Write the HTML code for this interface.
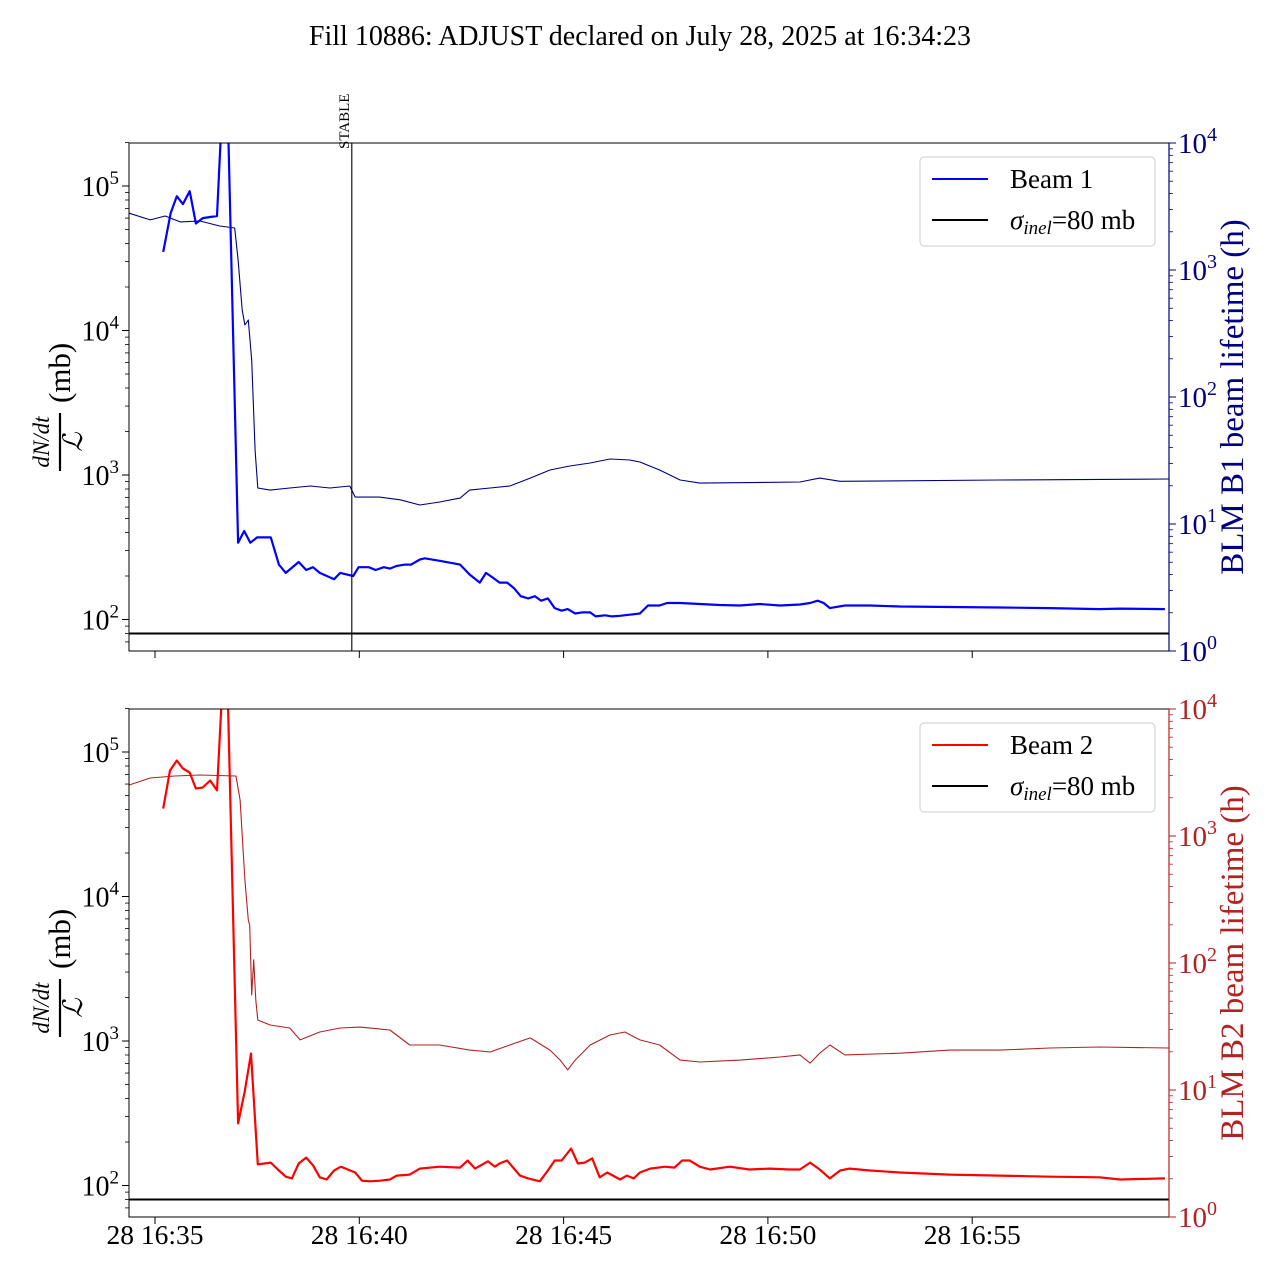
<!DOCTYPE html>
<html><head><meta charset="utf-8">
<style>
body{margin:0;background:#fff;}
svg text{font-family:"Liberation Serif","DejaVu Serif",serif;}
</style></head>
<body>
<svg id="chart" width="1280" height="1280" viewBox="0 0 1280 1280" xmlns="http://www.w3.org/2000/svg">
<text x="640" y="45" font-size="28" text-anchor="middle">Fill 10886: ADJUST declared on July 28, 2025 at 16:34:23</text>
</svg>
<script>
// times in seconds since 16:35:00
const b1Times=[12,23,32,41,51,60,70,91,98,107,122,131,140,150,170,182,192,211,222,232,242,263,272,291,299,314,324,336,345,355,367,376,389,396,418,448,462,477,486,496,506,517,527,537,548,558,567,577,587,597,606,617,627,639,647,661,671,683,697,712,724,741,752,771,800,829,859,888,918,947,962,973,982,991,1013,1050,1094,1167,1240,1314,1387,1417,1483];
const b1Values=[35000,65000,85000,75000,92000,55000,60000,62000,300000,300000,340,410,340,370,370,240,210,250,220,230,210,190,210,200,230,230,220,230,225,235,240,240,260,265,255,240,205,180,210,195,180,180,165,145,140,145,135,140,120,115,118,110,112,112,105,107,105,106,108,110,125,125,130,130,128,126,125,128,125,127,130,135,130,120,125,125,123,122,121,120,118,119,118];
const lt1Times=[-38,-7,15,37,66,95,117,122,128,132,137,142,147,151,169,198,228,257,286,294,330,360,389,418,448,462,492,521,551,580,609,639,668,697,712,741,771,800,947,976,1006,1240,1489];
const lt1Hours=[2800,2480,2660,2390,2430,2220,2140,1200,484,369,404,195,38,19.2,18.5,19.2,19.9,19.2,19.9,16.3,16.3,15.5,14.1,14.9,16.0,18.5,19.2,19.9,23,26.6,28.6,30.2,32.5,31.9,30.8,26.6,22.2,21,21.4,23,21.7,22.2,22.6];
const b2Times=[12,22,32,41,51,60,70,81,91,98,107,122,132,141,151,170,182,192,201,211,222,232,242,252,263,273,283,294,304,316,330,345,355,374,389,418,448,459,470,489,499,506,517,536,548,565,577,587,597,611,621,631,642,653,664,683,693,703,712,727,749,763,774,785,800,815,844,873,903,932,947,962,976,991,1006,1020,1050,1094,1167,1240,1314,1387,1417,1483];
const b2Values=[40600,74500,87300,76900,72100,55800,56800,63500,54200,230000,230000,269,454,819,140,144,127,115,112,142,156,138,114,110,127,135,129,123,108,107,108,110,117,119,131,135,133,149,131,147,135,142,149,117,112,107,127,149,149,180,142,144,154,114,123,110,117,112,123,131,135,133,149,149,135,129,135,129,131,129,129,144,129,112,127,131,127,123,119,117,115,114,110,112];
const lt2Times=[-38,-7,29,66,119,125,132,137,139,142,145,148,151,169,198,213,242,272,301,345,374,418,462,492,521,551,580,595,606,617,639,668,690,712,741,771,800,859,918,947,962,976,991,1013,1094,1167,1240,1314,1387,1489];
const lt2Hours=[2520,2860,2970,3020,2970,1920,450,218,199,56,106,51,35.6,32.5,30.8,24.8,28.6,30.8,31.3,29.7,22.6,22.6,20.6,19.9,22.6,25.7,20.6,17.2,14.4,17.2,22.6,27.1,28.6,24.8,22.6,17.2,16.6,17.2,18.2,18.9,16.3,19.5,22.6,18.9,19.5,20.6,20.6,21.4,21.8,21.4];
const xTickSecs=[0,300,600,900,1200];
const xTickLabels=["28 16:35","28 16:40","28 16:45","28 16:50","28 16:55"];
const stableSec=289;
const sigmaInel=80;

const NS="http://www.w3.org/2000/svg";
const svg=document.getElementById('chart');
function mk(tag,attrs,parent){const e=document.createElementNS(NS,tag);for(const k in attrs)e.setAttribute(k,attrs[k]);(parent||svg).appendChild(e);return e;}
const X0=129,X1=1169;
function xs(s){return 155+s*(204.3/300);}

function panel(p){
  const g=mk('g',{});
  
  
  const top=p.top,bot=p.top+508;
  const yl=v=>p.y5-(Math.log10(v)-5)*144.5;
  const yr=v=>top+(4-Math.log10(v))*127;
  const cid='clip'+p.name;
  const cp=mk('clipPath',{id:cid},g);mk('rect',{x:X0,y:top,width:X1-X0,height:508},cp);
  for(let d=1;d<=5;d++){for(let m=1;m<10;m++){const v=m*Math.pow(10,d);const y=yl(v);if(y<top-0.5||y>bot+0.5)continue;
    const t=mk('line',{x1:X0,x2:X0-(m==1?7:4),y1:y,y2:y,stroke:'#000','stroke-width':m==1?1:0.8},g);
    
    if(m==1){const tx=mk('text',{x:X0-10,y:y+10,'font-size':28,'text-anchor':'end'},g);
      
      tx.innerHTML='10<tspan dy="-12" font-size="19">'+d+'</tspan>';}}}
  for(let d=0;d<=4;d++){for(let m=1;m<10;m++){const v=m*Math.pow(10,d);const y=yr(v);if(y<top-0.5||y>bot+0.5)continue;
    const t=mk('line',{x1:X1,x2:X1+(m==1?7:4),y1:y,y2:y,stroke:p.rcol,'stroke-width':m==1?1:0.8},g);
    
    if(m==1){const tx=mk('text',{x:X1+9,y:y+10,'font-size':29,fill:p.rcol},g);
      
      tx.innerHTML='10<tspan dy="-12" font-size="20">'+d+'</tspan>';}}}
  xTickSecs.forEach((s,i)=>{const x=xs(s);const t=mk('line',{x1:x,x2:x,y1:bot,y2:bot+7,stroke:'#000'},g);
    
    if(p.labels){const tx=mk('text',{x:x,y:bot+27,'font-size':27.5,'text-anchor':'middle'},g);tx.textContent=xTickLabels[i];
      }});
  const cg=mk('g',{'clip-path':'url(#'+cid+')'},g);
  const path=(T,V,f,col,w,name)=>{const d=T.map((t,i)=>(i?'L':'M')+xs(t).toFixed(1)+','+f(V[i]).toFixed(1)).join('');
    const e=mk('path',{d:d,fill:'none',stroke:col,'stroke-width':w,'stroke-linejoin':'round'},cg);
    };
  path(p.lt,p.lh,yr,p.rcol,1.1,p.name+'-lifetime-line');
  path(p.bt,p.bv,yl,p.col,2.2,p.name+'-loss-line');
  const sl=mk('line',{x1:X0,x2:X1,y1:yl(sigmaInel),y2:yl(sigmaInel),stroke:'#000','stroke-width':2},cg);
  
  if(p.stable){const x=xs(stableSec);const l=mk('line',{x1:x,x2:x,y1:top,y2:bot,stroke:'#000','stroke-width':1.1},g);
    
    const t=mk('text',{x:0,y:0,'font-size':15,transform:'translate('+(x-3)+','+(top+6)+') rotate(-90)'},g);t.textContent='STABLE';
    }
  mk('path',{d:`M${X1},${top}H${X0}V${bot}H${X1}`,fill:'none',stroke:'#000','stroke-width':1},g);
  const rs=mk('line',{x1:X1,x2:X1,y1:top,y2:bot,stroke:p.rcol,'stroke-width':1.2},g);
  
  const lg=mk('g',{},g);
  mk('rect',{x:920,y:top+14,width:235,height:89,rx:4,fill:'#fff',stroke:'#ccc'},lg);
  mk('line',{x1:932,x2:988,y1:top+36,y2:top+36,stroke:p.col,'stroke-width':2},lg);
  const a=mk('text',{x:1010,y:top+45,'font-size':27},lg);a.textContent=p.beam;
  
  mk('line',{x1:932,x2:988,y1:top+77,y2:top+77,stroke:'#000','stroke-width':2},lg);
  const b=mk('text',{x:1010,y:top+86,'font-size':27},lg);b.innerHTML='<tspan font-style="italic">σ</tspan><tspan font-style="italic" font-size="19" dy="5">inel</tspan><tspan dy="-5">=80 mb</tspan>';
  
  const cy=top+254;
  const ll=mk('g',{transform:'translate(60,'+cy+') rotate(-90)'},g);
  mk('text',{x:-45,y:-11,'font-size':23,'font-style':'italic','text-anchor':'middle'},ll).textContent='dN/dt';
  mk('line',{x1:-74,x2:-16,y1:0,y2:0,stroke:'#000','stroke-width':2.2},ll);
  mk('text',{x:-45,y:22,'font-size':27,'font-style':'italic','text-anchor':'middle'},ll).textContent='ℒ';
  mk('text',{x:-6,y:10,'font-size':31},ll).textContent='(mb)';
  const rl=mk('text',{'font-size':33,fill:p.rcol,'text-anchor':'middle',transform:'translate(1243,'+cy+') rotate(-90)'},g);
  rl.textContent=p.rlabel;
}
panel({name:'beam1-panel',top:143,y5:186,col:'#0000ff',rcol:'#000080',bt:b1Times,bv:b1Values,lt:lt1Times,lh:lt1Hours,beam:'Beam 1',rlabel:'BLM B1 beam lifetime (h)',stable:true,labels:false});
panel({name:'beam2-panel',top:709,y5:752,col:'#ff0000',rcol:'#b22222',bt:b2Times,bv:b2Values,lt:lt2Times,lh:lt2Hours,beam:'Beam 2',rlabel:'BLM B2 beam lifetime (h)',stable:false,labels:true});
</script>
</body></html>
